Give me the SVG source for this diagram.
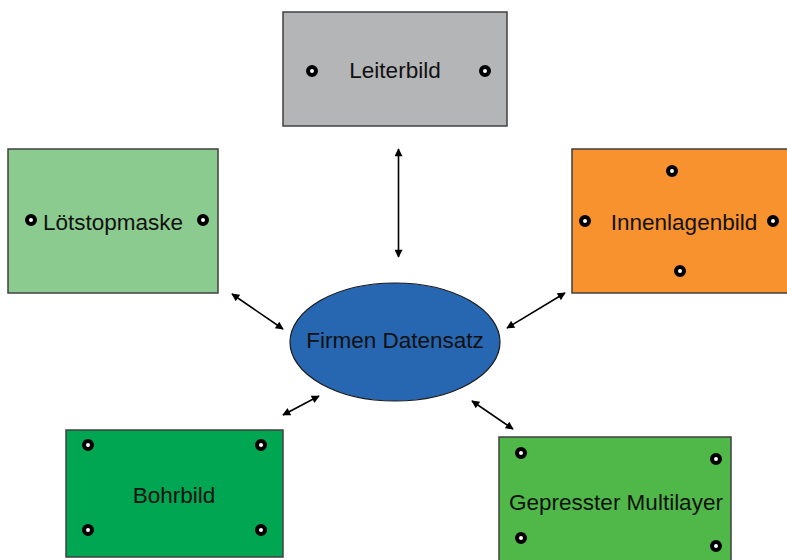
<svg xmlns="http://www.w3.org/2000/svg" width="787" height="560" viewBox="0 0 787 560">
<defs>
<marker id="ah" viewBox="0 0 10 10" refX="9" refY="5" markerWidth="10" markerHeight="8" markerUnits="userSpaceOnUse" orient="auto-start-reverse">
<path d="M0,0 L10,5 L0,10 z" fill="#000"/>
</marker>
<style>
.box{stroke:#404040;stroke-width:1.5}
.lbl{font-family:"Liberation Sans",Arial,sans-serif;font-size:22.5px;fill:#111;text-anchor:middle}
.hole{fill:#fff;stroke:#000;stroke-width:4}
.con{stroke:#000;stroke-width:1.6;fill:none;marker-start:url(#ah);marker-end:url(#ah)}
</style>
</defs>
<rect width="787" height="560" fill="#fff"/>
<g id="leiterbild">
<rect class="box" x="283" y="12" width="224" height="114" fill="#b3b5b6"/>
<circle class="hole" cx="312" cy="71" r="4"/>
<circle class="hole" cx="485" cy="71" r="4"/>
<text class="lbl" x="395" y="78">Leiterbild</text>
</g>
<g id="loetstopmaske">
<rect class="box" x="8" y="149" width="210" height="144" fill="#8ccb8f"/>
<circle class="hole" cx="31" cy="220" r="4"/>
<circle class="hole" cx="203" cy="220" r="4"/>
<text class="lbl" x="113" y="230">Lötstopmaske</text>
</g>
<g id="innenlagenbild">
<rect class="box" x="572" y="149" width="220" height="144" fill="#f7922e"/>
<circle class="hole" cx="672" cy="171" r="4"/>
<circle class="hole" cx="585" cy="221" r="4"/>
<circle class="hole" cx="773" cy="221" r="4"/>
<circle class="hole" cx="680" cy="271" r="4"/>
<text class="lbl" x="684" y="230">Innenlagenbild</text>
</g>
<g id="firmen-datensatz">
<ellipse cx="395" cy="342" rx="105" ry="59" fill="#2766b0" stroke="#1a1a1a" stroke-width="1.2"/>
<text class="lbl" x="395" y="348">Firmen Datensatz</text>
</g>
<g id="bohrbild">
<rect class="box" x="66" y="430" width="217" height="127" fill="#00a651"/>
<circle class="hole" cx="88" cy="445" r="4"/>
<circle class="hole" cx="261" cy="445" r="4"/>
<circle class="hole" cx="88" cy="530" r="4"/>
<circle class="hole" cx="261" cy="530" r="4"/>
<text class="lbl" x="174" y="503">Bohrbild</text>
</g>
<g id="gepresster-multilayer">
<rect class="box" x="499" y="437" width="232" height="130" fill="#50b848"/>
<circle class="hole" cx="521" cy="453" r="4"/>
<circle class="hole" cx="716" cy="459" r="4"/>
<circle class="hole" cx="521" cy="538" r="4"/>
<circle class="hole" cx="716" cy="546" r="4"/>
<text class="lbl" x="616" y="510">Gepresster Multilayer</text>
</g>
<g id="connectors">
<line class="con" x1="398.5" y1="149" x2="398.5" y2="257"/>
<line class="con" x1="232" y1="294" x2="283" y2="329"/>
<line class="con" x1="565" y1="293" x2="507" y2="328"/>
<line class="con" x1="283" y1="415" x2="319" y2="396"/>
<line class="con" x1="472" y1="401" x2="513" y2="429"/>
</g>
</svg>
